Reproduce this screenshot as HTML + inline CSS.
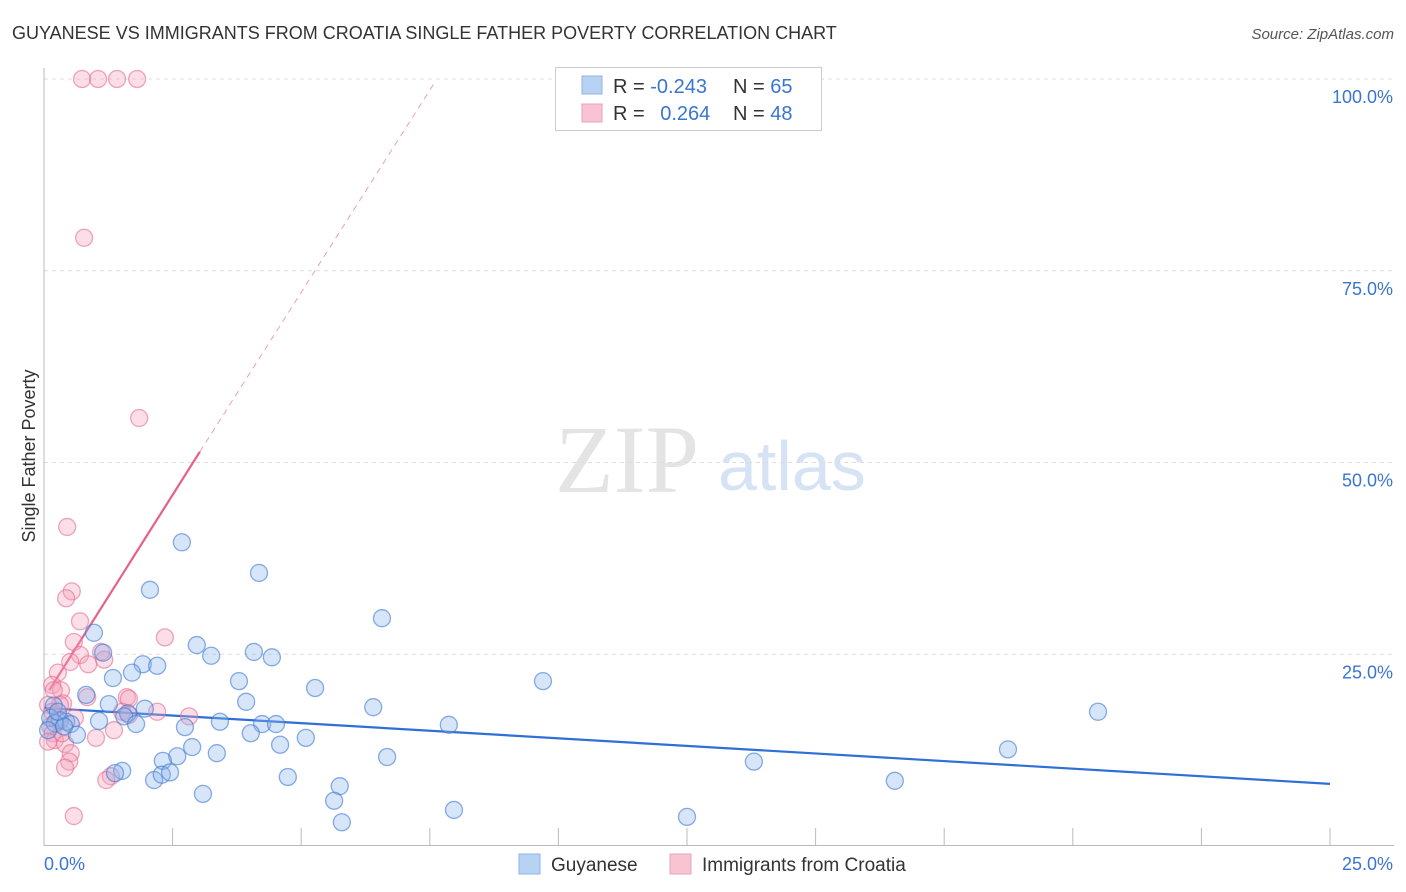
<!DOCTYPE html>
<html><head><meta charset="utf-8"><style>
body{margin:0;background:#fff;font-family:"Liberation Sans",sans-serif;}
svg{display:block}
</style></head><body>
<svg id="chart" width="1406" height="892" xmlns="http://www.w3.org/2000/svg">
<text x="12" y="39" font-size="18" fill="#333">GUYANESE VS IMMIGRANTS FROM CROATIA SINGLE FATHER POVERTY CORRELATION CHART</text>
<text x="1394" y="39" font-size="15" fill="#555" font-style="italic" text-anchor="end">Source: ZipAtlas.com</text>
<g>
<text x="555" y="492" font-family="Liberation Serif,serif" font-size="96" fill="#e4e4e4">ZIP</text>
<text x="718" y="490" font-size="70" fill="#d6e3f5">atlas</text>
</g>
<g id="grid"></g>
<g id="axes"></g>
<g id="trend"></g>
<g id="pts"></g>
<text x="35" y="456" font-size="18" fill="#333" text-anchor="middle" transform="rotate(-90 35 456)">Single Father Poverty</text>
<g>
<rect x="555.5" y="67.5" width="266" height="63" fill="#fff" stroke="#ccc"/>
<rect x="582" y="76" width="20" height="18" fill="#b8d2f4" stroke="#8fb3e6"/>
<rect x="582" y="104" width="20" height="18" fill="#f8c4d3" stroke="#eaa2b9"/>
<text x="613" y="93" font-size="20" fill="#333">R = <tspan fill="#3a75d2">-0.243</tspan></text>
<text x="733" y="93" font-size="20" fill="#333">N = <tspan fill="#3a75d2">65</tspan></text>
<text x="613" y="120" font-size="20" fill="#333">R = <tspan fill="#3a75d2" dx="10">0.264</tspan></text>
<text x="733" y="120" font-size="20" fill="#333">N = <tspan fill="#3a75d2">48</tspan></text>
</g>
<g>
<rect x="519" y="854" width="21" height="20" fill="#b8d2f4" stroke="#8fb3e6"/>
<text x="551" y="871" font-size="19" fill="#333">Guyanese</text>
<rect x="670" y="854" width="21" height="20" fill="#f8c4d3" stroke="#eaa2b9"/>
<text x="702" y="871" font-size="19" fill="#333">Immigrants from Croatia</text>
</g>
</svg>
<script>
const blueX=[2.68,4.18,2.06,6.57,0.97,2.97,3.25,1.15,4.08,4.43,1.92,2.20,1.71,1.34,3.79,9.70,5.27,0.82,1.26,3.93,1.96,6.40,0.19,20.49,1.63,1.07,1.56,3.42,4.24,4.51,1.79,7.87,2.74,0.31,0.43,0.52,0.64,4.02,5.09,4.59,2.88,18.74,3.36,2.59,6.67,2.31,13.80,4.74,16.54,2.14,2.29,2.45,1.52,1.38,5.75,3.09,5.64,7.97,5.79,12.50,0.12,0.21,0.08,0.39,0.27];
const blueY=[39.6,35.6,33.4,29.7,27.8,26.2,24.8,25.2,25.3,24.6,23.7,23.5,22.6,21.9,21.5,21.5,20.6,19.7,18.5,18.8,17.9,18.1,18.3,17.5,17.3,16.3,16.9,16.2,15.9,15.9,15.9,15.8,15.5,16.4,16.2,15.9,14.5,14.7,14.1,13.2,12.9,12.6,12.1,11.7,11.6,11.1,11.0,9.0,8.5,8.6,9.3,9.6,9.8,9.5,7.8,6.8,5.9,4.7,3.1,3.8,16.7,16.0,15.1,15.6,17.5];
const pinkX=[0.74,1.05,1.42,1.81,0.78,1.85,0.45,0.54,0.43,0.70,2.35,0.58,1.11,0.70,0.51,0.86,0.27,0.16,0.33,0.19,0.84,1.61,1.17,1.65,0.37,2.20,1.52,2.82,0.60,0.25,0.12,0.17,1.36,1.01,0.21,0.08,0.41,0.52,0.49,0.41,1.30,1.21,0.58,1.65,0.31,0.08,0.35,0.16];
const pinkY=[100,100,100,100,79.3,55.8,41.6,33.2,32.3,29.3,27.2,26.6,25.3,24.9,24.0,23.7,22.6,21.0,20.3,20.3,19.4,19.4,24.3,19.2,18.6,17.5,17.5,16.9,16.7,16.4,15.6,14.7,15.1,14.1,13.8,13.6,13.3,12.1,11.0,10.2,9.1,8.6,3.9,17.1,18.4,18.4,14.7,17.5];
const yTicks=[25,50,75,100];
const xTickVals=[0,2.5,5,7.5,10,12.5,15,17.5,20,22.5,25];
const blueTrend=[[0,18.0],[25,8.1]];
const pinkSolid=[[0.1,20.3],[3.03,51.4]];
const pinkDash=[[3.03,51.4],[7.6,99.6]];
const X0=44,X1=1330,Y0=846,Y100=79;
const sx=v=>X0+(v/25)*(X1-X0);
const sy=v=>Y0-(v/100)*(Y0-Y100);
const NS="http://www.w3.org/2000/svg";
function mk(tag,attrs,parent){const e=document.createElementNS(NS,tag);for(const k in attrs)e.setAttribute(k,attrs[k]);parent.appendChild(e);return e;}
const grid=document.getElementById('grid'),axes=document.getElementById('axes'),trend=document.getElementById('trend'),pts=document.getElementById('pts');
yTicks.forEach(t=>{
 const l=mk('line',{x1:X0,x2:1394,y1:sy(t),y2:sy(t),stroke:'#ddd','stroke-dasharray':'4,4'},grid);
 
 
 const tx=mk('text',{x:1393,y:sy(t)+24,'font-size':18,fill:'#3a75d2','text-anchor':'end'},axes);
 tx.textContent=t.toFixed(1)+'%';
 
 
});
let ax=mk('line',{x1:X0,x2:X0,y1:68,y2:Y0,stroke:'#bbb'},axes);


ax=mk('line',{x1:X0,x2:1394,y1:Y0-0.5,y2:Y0-0.5,stroke:'#bbb'},axes);


xTickVals.forEach((t,i)=>{
 if(i===0)return;
 const l=mk('line',{x1:sx(t),x2:sx(t),y1:828,y2:Y0,stroke:'#bbb'},axes);
 
 
});
let tl=mk('text',{x:44,y:870,'font-size':18,fill:'#3a75d2'},axes);tl.textContent='0.0%';


tl=mk('text',{x:1393,y:870,'font-size':18,fill:'#3a75d2','text-anchor':'end'},axes);tl.textContent='25.0%';


pinkX.forEach((x,i)=>{
 const c=mk('circle',{cx:sx(x),cy:sy(pinkY[i]),r:8.5,fill:'rgba(244,160,186,0.35)',stroke:'rgba(228,110,148,0.6)','stroke-width':1.3},pts);
 
 
});
blueX.forEach((x,i)=>{
 const c=mk('circle',{cx:sx(x),cy:sy(blueY[i]),r:8.5,fill:'rgba(140,180,235,0.35)',stroke:'rgba(60,120,210,0.6)','stroke-width':1.3},pts);
 
 
});
let t=mk('line',{x1:sx(blueTrend[0][0]),y1:sy(blueTrend[0][1]),x2:sx(blueTrend[1][0]),y2:sy(blueTrend[1][1]),stroke:'#2f6fd6','stroke-width':2.2},trend);


t=mk('line',{x1:sx(pinkSolid[0][0]),y1:sy(pinkSolid[0][1]),x2:sx(pinkSolid[1][0]),y2:sy(pinkSolid[1][1]),stroke:'#e8608a','stroke-width':2.2},trend);


t=mk('line',{x1:sx(pinkDash[0][0]),y1:sy(pinkDash[0][1]),x2:sx(pinkDash[1][0]),y2:sy(pinkDash[1][1]),stroke:'#eaa0b6','stroke-width':1,'stroke-dasharray':'6,5'},trend);


</script>
</body></html>
